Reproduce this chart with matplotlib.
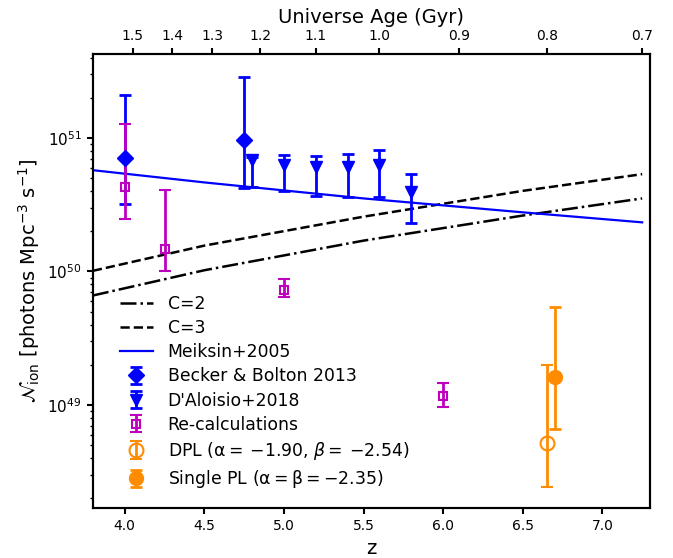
import matplotlib
matplotlib.use('Agg')
import matplotlib.pyplot as plt

# model curves (z, N_ion)
line_z = [3.8, 4.5, 5.5, 6.5, 7.25]
meiksin_n = [5.73e50, 4.64e50, 3.52e50, 2.77e50, 2.33e50]
c3_n = [1.01e50, 1.56e50, 2.57e50, 4.01e50, 5.35e50]
c2_n = [6.6e49, 1.02e50, 1.70e50, 2.62e50, 3.52e50]

# Becker & Bolton 2013
bb_z = [4.0, 4.75]
bb_n = [7.1e50, 9.6e50]
bb_lo = [3.2e50, 4.2e50]
bb_hi = [2.1e51, 2.85e51]

# D'Aloisio+2018
da_z = [4.8, 5.0, 5.2, 5.4, 5.6, 5.8]
da_n = [6.8e50, 6.25e50, 6.05e50, 6.05e50, 6.25e50, 3.95e50]
da_lo = [4.3e50, 4.0e50, 3.7e50, 3.6e50, 3.6e50, 2.3e50]
da_hi = [7.2e50, 7.4e50, 7.3e50, 7.55e50, 8.1e50, 5.4e50]

# Re-calculations
rc_z = [4.0, 4.25, 5.0, 6.0]
rc_n = [4.3e50, 1.47e50, 7.3e49, 1.17e49]
rc_lo = [2.46e50, 1.0e50, 6.4e49, 9.6e48]
rc_hi = [1.26e51, 4.07e50, 8.75e49, 1.47e49]

# this work
dpl_z, dpl_n, dpl_lo, dpl_hi = [6.65], [5.2e48], [2.42e48], [1.99e49]
spl_z, spl_n, spl_lo, spl_hi = [6.7], [1.63e49], [6.6e48], [5.4e49]

# top axis: universe age labels and the redshifts they sit at
age_labels = ['1.5', '1.4', '1.3', '1.2', '1.1', '1.0', '0.9', '0.8', '0.7']
age_z = [4.05, 4.3, 4.55, 4.85, 5.2, 5.6, 6.1, 6.65, 7.25]


def yerr(n, lo, hi):
    return [[a - b for a, b in zip(n, lo)], [c - a for a, c in zip(n, hi)]]


plt.rcParams['font.family'] = 'DejaVu Sans'
plt.rcParams['axes.linewidth'] = 1.5

fig = plt.figure(figsize=(6.73, 5.58), dpi=100)
fig.subplots_adjust(left=0.138, right=0.966, bottom=0.0896, top=0.903)
ax = fig.add_subplot(111)

ax.plot(line_z, c2_n, 'k-.', lw=1.8, label='C=2')
ax.plot(line_z, c3_n, 'k--', lw=1.8, label='C=3')
ax.plot(line_z, meiksin_n, 'b-', lw=1.6, label='Meiksin+2005')

ekw = dict(ls='none', elinewidth=2, capsize=4, capthick=2)
ax.errorbar(bb_z, bb_n, yerr=yerr(bb_n, bb_lo, bb_hi), fmt='D', color='b',
            ms=8, label='Becker & Bolton 2013', **ekw)
ax.errorbar(da_z, da_n, yerr=yerr(da_n, da_lo, da_hi), fmt='v', color='b',
            ms=9, label="D'Aloisio+2018", **ekw)
ax.errorbar(rc_z, rc_n, yerr=yerr(rc_n, rc_lo, rc_hi), fmt='s', color='m',
            ms=6, mfc='none', mew=1.5, label='Re-calculations', **ekw)
ax.errorbar(dpl_z, dpl_n, yerr=yerr(dpl_n, dpl_lo, dpl_hi), fmt='o',
            color='darkorange', ms=10, mfc='none', mew=1.5,
            label=r'DPL ($\mathrm{\alpha} = \:-1.90$, $\beta = \:-2.54$)', **ekw)
ax.errorbar(spl_z, spl_n, yerr=yerr(spl_n, spl_lo, spl_hi), fmt='o',
            color='darkorange', ms=10,
            label=r'Single PL ($\mathrm{\alpha = \beta} = -2.35$)', **ekw)

ax.set_yscale('log')
ax.set_xlim(3.8, 7.3)
ax.set_ylim(1.69e48, 4.24e51)
ax.set_xlabel('z', fontsize=14)
ax.set_ylabel(r'$\mathcal{N}_{\rm ion}$ [photons Mpc$^{-3}$ s$^{-1}$]', fontsize=14)
ax.tick_params(which='major', length=4.5, width=1.5, labelsize=10)
ax.tick_params(axis='y', which='major', labelsize=11)
ax.tick_params(which='minor', length=2.5, width=1.0)

ax2 = ax.twiny()
ax2.set_xlim(ax.get_xlim())
ax2.set_xticks(age_z)
ax2.set_xticklabels(age_labels)
ax2.tick_params(length=4.5, width=1.5, labelsize=10)
ax2.set_xlabel('Universe Age (Gyr)', fontsize=14)

ax.legend(loc='lower left', frameon=False, fontsize=12.4, labelspacing=0.36,
          bbox_to_anchor=(0.02, 0.005), handlelength=1.95, handletextpad=0.85)

fig.savefig('out.png', dpi=100)
